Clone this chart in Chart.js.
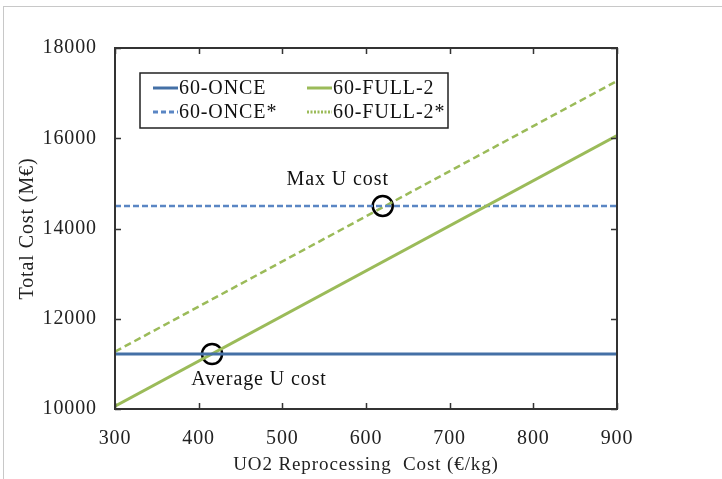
<!DOCTYPE html>
<html>
<head>
<meta charset="utf-8">
<script src="https://cdn.jsdelivr.net/npm/chart.js@4/dist/chart.umd.min.js"></script>
<style>
  html, body { margin: 0; padding: 0; background: #fff; }
  #wrap { position: relative; width: 722px; height: 479px; }
  #edge { position: absolute; left: 3px; top: 6px; right: 0; bottom: 0;
          border-top: 1px solid #c8c8c8; border-left: 1px solid #c8c8c8; pointer-events: none; }
  canvas { position: absolute; left: 0; top: 0; }
</style>
</head>
<body>
<div id="wrap">
  <canvas id="c" width="722" height="479"></canvas>
  <div id="edge"></div>
</div>
<script>
// Reprocessing cost (€/kg) at the two ends of the range
const reprocessingCost = [300, 900];
// Total cost (M€) for each scenario
const once      = [11220, 11220];
const onceStar  = [14500, 14500];
const full2     = [10060, 16060];
const full2Star = [11270, 17270];
// Break-even points marked with circles
const breakEvenCost  = [416, 620];
const breakEvenTotal = [11220, 14500];
const breakEvenNames = ['Average U cost', 'Max U cost'];
// Axis ticks
const xTicks = [300, 400, 500, 600, 700, 800, 900];
const yTicks = [10000, 12000, 14000, 16000, 18000];

const FONT = "'Liberation Serif', 'Times New Roman', serif";
const FSIZE = 20;
const SPACING = '0.9px';
const BLUE = '#4470a6';
const BLUE_LIGHT = '#5a86c4';
const GREEN = '#9bbb59';

const pairs = (ys) => reprocessingCost.map((x, i) => ({ x, y: ys[i] }));

const legendItems = [
  { label: '60-ONCE',     color: BLUE,       dash: [],       col: 0, row: 0 },
  { label: '60-FULL-2',   color: GREEN,      dash: [],       col: 1, row: 0 },
  { label: '60-ONCE*',    color: BLUE_LIGHT, dash: [5, 3],   col: 0, row: 1 },
  { label: '60-FULL-2*',  color: GREEN,      dash: [2, 1.5], col: 1, row: 1 }
];

// slightly wider text set on the context before everything is drawn
const spacingPlugin = {
  id: 'spacing',
  beforeDraw(chart) { chart.ctx.letterSpacing = SPACING; }
};

const framePlugin = {
  id: 'frame',
  afterDatasetsDraw(chart) {
    const { ctx, chartArea: a, scales } = chart;
    ctx.save();
    ctx.letterSpacing = SPACING;
    // inward tick marks on all four sides
    ctx.strokeStyle = '#333';
    ctx.lineWidth = 1.5;
    ctx.beginPath();
    xTicks.forEach(v => {
      const px = Math.round(scales.x.getPixelForValue(v)) + 0.5;
      ctx.moveTo(px, a.bottom); ctx.lineTo(px, a.bottom - 6);
      ctx.moveTo(px, a.top);    ctx.lineTo(px, a.top + 6);
    });
    yTicks.forEach(v => {
      const py = Math.round(scales.y.getPixelForValue(v)) + 0.5;
      ctx.moveTo(a.left, py);  ctx.lineTo(a.left + 6, py);
      ctx.moveTo(a.right, py); ctx.lineTo(a.right - 6, py);
    });
    ctx.stroke();
    // plot frame
    ctx.strokeStyle = '#333';
    ctx.lineWidth = 2;
    ctx.strokeRect(a.left, a.top, a.right - a.left, a.bottom - a.top);

    // break-even labels
    ctx.fillStyle = '#111';
    ctx.font = FSIZE + 'px ' + FONT;
    ctx.textAlign = 'center';
    ctx.textBaseline = 'middle';
    const p0x = scales.x.getPixelForValue(breakEvenCost[0]);
    const p0y = scales.y.getPixelForValue(breakEvenTotal[0]);
    ctx.fillText(breakEvenNames[0], p0x + 47, p0y + 26);
    const p1x = scales.x.getPixelForValue(breakEvenCost[1]);
    const p1y = scales.y.getPixelForValue(breakEvenTotal[1]);
    ctx.fillText(breakEvenNames[1], p1x - 45, p1y - 26);

    // legend box
    const bx = 140, by = 73, bw = 308, bh = 55;
    ctx.fillStyle = '#fff';
    ctx.fillRect(bx, by, bw, bh);
    ctx.strokeStyle = '#222';
    ctx.lineWidth = 1.5;
    ctx.strokeRect(bx, by, bw, bh);
    ctx.textAlign = 'left';
    legendItems.forEach(it => {
      const lx = bx + 13 + it.col * 154;
      const ly = by + 15 + it.row * 24;
      ctx.strokeStyle = it.color;
      ctx.lineWidth = 3;
      ctx.setLineDash(it.dash);
      ctx.beginPath();
      ctx.moveTo(lx, ly); ctx.lineTo(lx + 25, ly);
      ctx.stroke();
      ctx.setLineDash([]);
      ctx.fillStyle = '#111';
      ctx.fillText(it.label, lx + 26, ly + 1);
    });
    ctx.restore();
  }
};

new Chart(document.getElementById('c'), {
  type: 'line',
  data: {
    datasets: [
      { label: '60-ONCE',    data: pairs(once),      borderColor: BLUE,       borderWidth: 3, pointRadius: 0 },
      { label: '60-FULL-2',  data: pairs(full2),     borderColor: GREEN,      borderWidth: 3, pointRadius: 0 },
      { label: '60-ONCE*',   data: pairs(onceStar),  borderColor: BLUE_LIGHT, borderWidth: 2.5, borderDash: [6, 3], pointRadius: 0 },
      { label: '60-FULL-2*', data: pairs(full2Star), borderColor: GREEN,      borderWidth: 2.5, borderDash: [7, 4], pointRadius: 0 },
      {
        type: 'scatter',
        label: 'break-even',
        data: breakEvenCost.map((x, i) => ({ x, y: breakEvenTotal[i] })),
        pointStyle: 'circle',
        pointRadius: 10,
        borderColor: '#000',
        backgroundColor: 'rgba(0,0,0,0)',
        borderWidth: 2.5
      }
    ]
  },
  options: {
    responsive: false,
    animation: false,
    events: [],
    layout: { padding: { top: 48, right: 105, left: 0, bottom: 0 } },
    plugins: { legend: { display: false }, tooltip: { enabled: false } },
    scales: {
      x: {
        type: 'linear',
        min: 300, max: 900,
        afterFit: s => { s.height = 70; },
        afterBuildTicks: s => { s.ticks = xTicks.map(v => ({ value: v })); },
        grid: { display: false, drawTicks: false },
        border: { display: false },
        ticks: { padding: 18, color: '#222', font: { family: FONT, size: FSIZE },
                 callback: v => String(v) },
        title: { display: true, text: 'UO2 Reprocessing  Cost (€/kg)', color: '#222',
                 font: { family: FONT, size: 19 }, padding: { top: 0, bottom: 3 } }
      },
      y: {
        min: 10000, max: 18000,
        afterFit: s => { s.width = 115; },
        afterBuildTicks: s => { s.ticks = yTicks.map(v => ({ value: v })); },
        grid: { display: false, drawTicks: false },
        border: { display: false },
        ticks: { padding: 18, color: '#222', font: { family: FONT, size: FSIZE },
                 callback: v => String(v) },
        title: { display: true, text: 'Total Cost (M€)', color: '#222',
                 font: { family: FONT, size: FSIZE }, padding: { top: 16, bottom: 0 } }
      }
    }
  },
  plugins: [spacingPlugin, framePlugin]
});
</script>
</body>
</html>
